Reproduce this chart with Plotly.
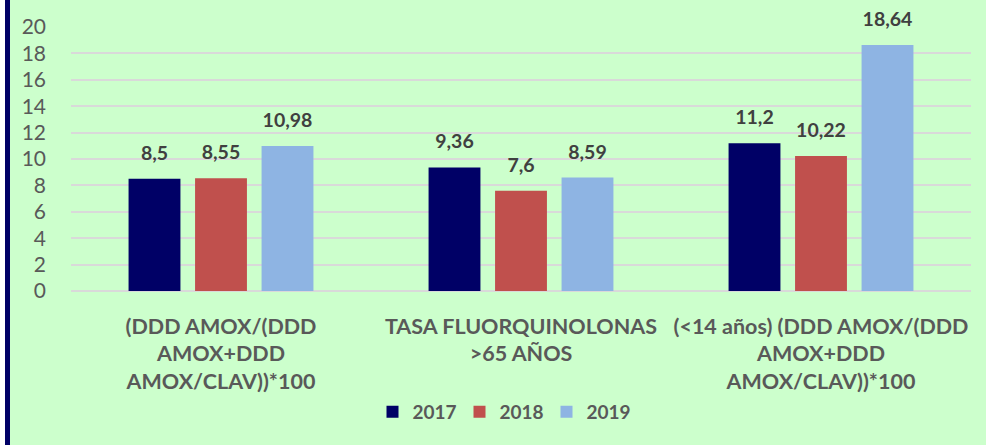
import plotly.graph_objects as go

# ── Data ─────────────────────────────────────────────────────────────────────
categories = [
    "(DDD AMOX/(DDD<br>AMOX+DDD<br>AMOX/CLAV))*100",
    "TASA FLUORQUINOLONAS<br>>65 AÑOS<br> ",
    "(<14 años) (DDD AMOX/(DDD<br>AMOX+DDD<br>AMOX/CLAV))*100",
]
years = ["2017", "2018", "2019"]
values_2017 = [8.5, 9.36, 11.2]
values_2018 = [8.55, 7.6, 10.22]
values_2019 = [10.98, 8.59, 18.64]
y_ticks = list(range(0, 21, 2))

series = [values_2017, values_2018, values_2019]
colors = ["#000066", "#C0504D", "#8EB4E3"]

_FONT = "Lato, 'Open Sans', sans-serif"
_GRAY = "#595959"
_DARK = "#404040"
_BG = "#CCFFCC"


def _fmt(v: float) -> str:
    return f"{v:g}".replace(".", ",")


fig = go.Figure()

for name, vals, col in zip(years, series, colors):
    fig.add_trace(go.Bar(
        name=name,
        x=categories,
        y=vals,
        marker=dict(color=col, line=dict(width=0)),
        hoverinfo="skip",
    ))

# value labels, grouped like the bars, lifted above bar tops
for name, vals in zip(years, series):
    fig.add_trace(go.Scatter(
        x=categories,
        y=vals,
        mode="markers+text",
        marker=dict(size=21, opacity=0),
        text=[f"<b>{_fmt(v)}</b>" for v in vals],
        textposition="top center",
        textfont=dict(size=19.5, color=_DARK, family=_FONT),
        showlegend=False,
        hoverinfo="skip",
        cliponaxis=False,
    ))

fig.update_layout(
    width=986,
    height=445,
    margin=dict(l=71, r=15, t=27, b=154),
    paper_bgcolor=_BG,
    plot_bgcolor=_BG,
    font=dict(family=_FONT, color=_GRAY, size=19),
    barmode="group",
    bargap=0.335,
    bargroupgap=0.22,
    scattermode="group",
    scattergap=0.335,
    xaxis=dict(
        showgrid=False,
        showline=False,
        ticks="",
        tickfont=dict(size=21.5, color=_GRAY, family=_FONT, weight="bold"),
        ticklabelstandoff=20,
    ),
    yaxis=dict(
        range=[0, 20],
        tickvals=y_ticks,
        showgrid=True,
        gridcolor="#D9D9D9",
        gridwidth=2,
        zeroline=True,
        zerolinecolor="#D9D9D9",
        zerolinewidth=2,
        showline=False,
        ticks="",
        ticklabelstandoff=24,
        tickfont=dict(size=21, color=_GRAY, family=_FONT),
    ),
    legend=dict(
        orientation="h",
        x=0.48, xanchor="center",
        y=-0.458, yanchor="middle",
        entrywidth=42,
        entrywidthmode="pixels",
        font=dict(size=19, color=_GRAY, family=_FONT, weight="bold"),
        bgcolor="rgba(0,0,0,0)",
    ),
    shapes=[
        dict(type="rect", xref="paper", yref="paper",
             x0=-71 / 900, x1=-66 / 900, y0=-154 / 264, y1=1 + 27 / 264,
             fillcolor="#FFFFFF", line=dict(width=0), layer="above"),
        dict(type="rect", xref="paper", yref="paper",
             x0=-66 / 900, x1=-61 / 900, y0=-154 / 264, y1=1 + 27 / 264,
             fillcolor="#000066", line=dict(width=0), layer="above"),
    ],
)

fig.write_html(
    "out.html",
    config={"displayModeBar": False},
    post_script="document.body.style.margin='0';",
)
